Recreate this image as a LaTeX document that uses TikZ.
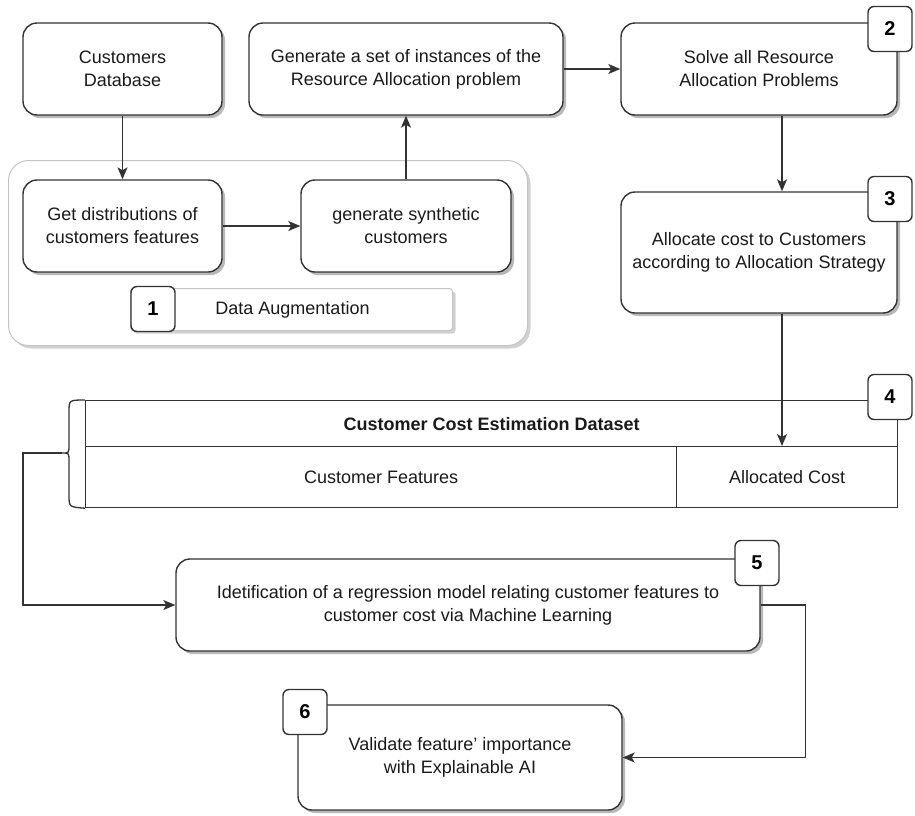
\documentclass[tikz,border=0pt]{standalone}
\usepackage{fontspec}
\setmainfont{Liberation Sans}
\usetikzlibrary{arrows.meta,shadows}

\definecolor{linegray}{HTML}{333333}
\definecolor{textgray}{HTML}{1A1A1A}
\definecolor{framegray}{HTML}{C4C4C4}

\tikzset{
  box/.style={draw=linegray, line width=1.4pt, fill=white, rounded corners=14pt,
    align=center, inner sep=0pt, text=textgray, font=\fontsize{18}{23}\selectfont,
    drop shadow={shadow xshift=3pt, shadow yshift=-3pt, fill=black!28, opacity=1}},
  badge/.style={draw=linegray, line width=1.4pt, fill=white, rounded corners=6pt,
    minimum width=44pt, minimum height=45pt, inner sep=0pt,
    font=\fontsize{20}{20}\selectfont\bfseries},
  cell/.style={draw=linegray, line width=1.2pt, fill=white, inner sep=0pt,
    anchor=north west, text=textgray, font=\fontsize{18}{20}\selectfont},
  frame/.style={draw=framegray, line width=1pt, fill=white, inner sep=0pt, anchor=north west,
    drop shadow={shadow xshift=3pt, shadow yshift=-3pt, fill=black!18, opacity=1}},
  link/.style={draw=linegray, line width=1.3pt},
  arr/.style={link, -{Stealth[length=12pt, width=10pt, inset=3pt]}}
}

\begin{document}
\begin{tikzpicture}[x=1pt, y=-1pt]
    \useasboundingbox (0,0) rectangle (915,815);

    % data augmentation group
    \node[frame, rounded corners=20pt, minimum width=519pt, minimum height=185pt] (aug) at (8,160) {};
    \node[frame, rounded corners=3pt, minimum width=322pt, minimum height=42pt,
          font=\fontsize{18}{20}\selectfont, text=textgray] (augbar) at (130,288) {\hspace*{2pt}Data Augmentation};
    \node[badge] (b1) at (153,309) {1};

    \node[box, minimum width=199pt, minimum height=92pt] (cdb) at (122.5,69) {Customers\\Database};
    \node[box, minimum width=314pt, minimum height=92pt] (gen) at (406,69) {Generate a set of instances of the\\Resource Allocation problem};
    \node[box, minimum width=276pt, minimum height=92pt] (sol) at (759,69) {Solve all Resource\\Allocation Problems};
    \node[box, minimum width=199pt, minimum height=92pt] (gd)  at (122.5,226) {Get distributions of\\customers features};
    \node[box, minimum width=210pt, minimum height=92pt] (gs)  at (406,226) {generate synthetic\\customers};
    \node[box, minimum width=276pt, minimum height=121pt] (alc) at (759,252.5) {Allocate cost to Customers\\according to Allocation Strategy};

    % dataset table
    \node[cell, minimum width=812pt, minimum height=46pt] (head) at (85,400) {\bfseries Customer Cost Estimation Dataset};
    \node[cell, minimum width=591pt, minimum height=61pt] (feat) at (85,446) {Customer Features};
    \node[cell, minimum width=221pt, minimum height=61pt] (cost) at (676,446) {Allocated Cost};
    \draw[link] (head.north west) .. controls (69,400) and (69,400) .. (69,412) -- (69,445)
        .. controls (69,453) .. (62,453) coordinate (tip) .. controls (69,453) .. (69,461)
        -- (69,495) .. controls (69,507) and (69,507) .. (feat.south west);

    \node[box, minimum width=584pt, minimum height=92pt] (ml)  at (468,605) {Idetification of a regression model relating customer features to\\customer cost via Machine Learning};
    \node[box, minimum width=324pt, minimum height=105pt] (val) at (460,757.5) {Validate feature' importance\\with Explainable AI};

    \node[badge] (b2) at (890,29) {2};
    \node[badge] (b3) at (890,199) {3};
    \node[badge] (b4) at (890,397) {4};
    \node[badge] (b5) at (757,563) {5};
    \node[badge] (b6) at (305,712) {6};

    \draw[arr] (cdb) -- (gd);
    \draw[arr] (gd) -- (gs);
    \draw[arr] (gs) -- (gen);
    \draw[arr] (gen) -- (sol);
    \draw[arr] ([xshift=23pt]sol.south) -- ([xshift=23pt]alc.north);
    \draw[arr] ([xshift=23pt]alc.south) -- ([xshift=23pt]alc.south |- cost.north);
    \draw[arr] (tip) -- ++(-39,0) |- (ml.west);
    \draw[arr] (ml.east) -- ++(45,0) |- (val.east);
\end{tikzpicture}
\end{document}
